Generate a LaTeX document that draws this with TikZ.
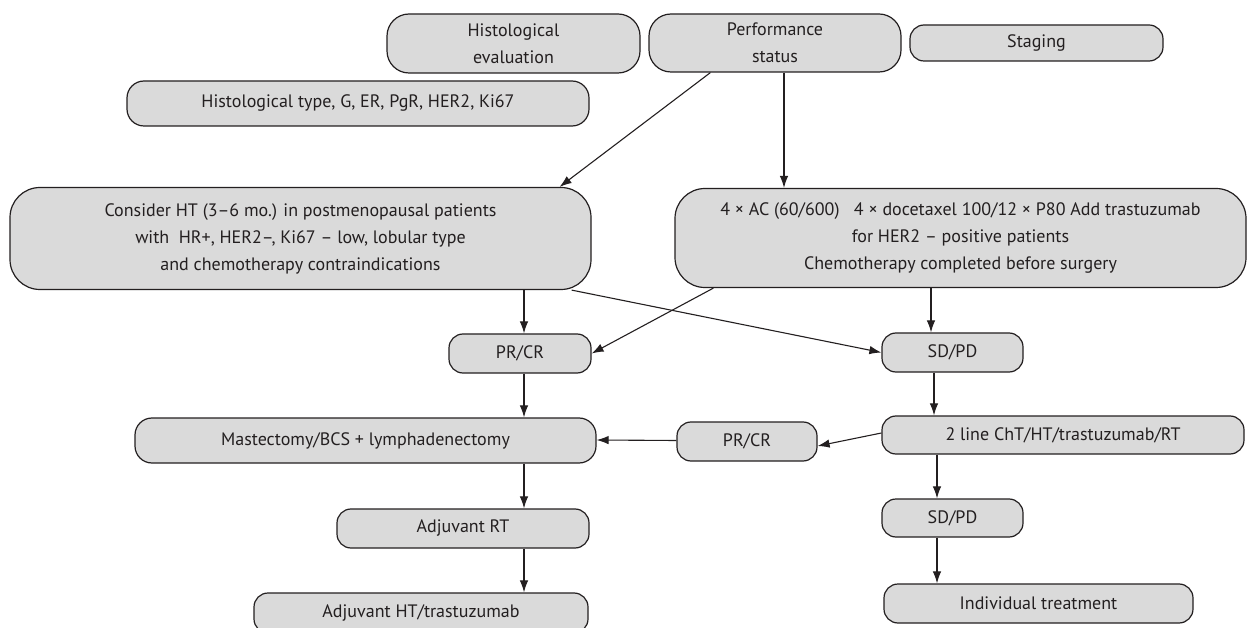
\documentclass[tikz,border=0pt]{standalone}
\usepackage{fontspec}
\setmainfont{PT Sans}
\usetikzlibrary{arrows.meta,calc}
\definecolor{boxgray}{HTML}{DADADA}
\definecolor{inkk}{HTML}{231F20}
\begin{document}
\begin{tikzpicture}[x=1pt,y=-1pt,
  box/.style={draw=inkk, line width=1.2pt, fill=boxgray, align=center, inner sep=0pt,
    font=\fontsize{18}{27}\selectfont, text=inkk},
  rs/.style={rounded corners=14pt},
  rm/.style={rounded corners=17pt},
  rl/.style={rounded corners=22pt},
  rx/.style={rounded corners=30pt},
  arr/.style={draw=inkk, line width=1.1pt, -{Latex[length=12pt,width=8.5pt]}},
  ln/.style={draw=inkk, line width=1.1pt}]
\useasboundingbox (0,0) rectangle (1248,628);
\clip (0,0) rectangle (1248,628);
\node[box,rl,minimum width=253pt,minimum height=59pt] (histeval) at (513.5,43.5) {Histological\\evaluation};
\node[box,rl,minimum width=252pt,minimum height=58pt] (perf) at (775,43) {Performance\\status};
\node[box,rs,minimum width=253pt,minimum height=36pt] (staging) at (1036.5,43) {Staging};
\node[box,rm,minimum width=462pt,minimum height=45pt] (histtype) at (358,103.5) {Histological type, G, ER, PgR, HER2, Ki67};
\node[box,rx,minimum width=581pt,minimum height=102pt] (cons) at (300.5,238.5) {Consider HT (3–6 mo.) in postmenopausal patients\\with \ HR+, HER2–, Ki67 – low, lobular type\\and chemotherapy contraindications};
\node[box,rx,minimum width=571pt,minimum height=99pt] (ac) at (960.5,238) {4 × AC (60/600) \ \ 4 × docetaxel 100/12 × P80 Add trastuzumab\\for HER2 – positive patients\\Chemotherapy completed before surgery};
\node[box,rs,minimum width=142pt,minimum height=39pt] (prcr1) at (520,353.5) {PR/CR};
\node[box,rs,minimum width=141pt,minimum height=39pt] (sdpd1) at (952.5,352.5) {SD/PD};
\node[box,rm,minimum width=461pt,minimum height=45pt] (mast) at (365.5,440.5) {Mastectomy/BCS + lymphadenectomy};
\node[box,rs,minimum width=140pt,minimum height=39pt] (prcr2) at (747,441.5) {PR/CR};
\node[box,rs,minimum width=362pt,minimum height=38pt] (line2) at (1063,435) {2 line ChT/HT/trastuzumab/RT};
\node[box,rs,minimum width=252pt,minimum height=39pt] (adjrt) at (463,528.5) {Adjuvant RT};
\node[box,rs,minimum width=141pt,minimum height=38pt] (sdpd2) at (952.5,518) {SD/PD};
\node[box,rs,minimum width=334pt,minimum height=40pt] (adjht) at (421,613) {Adjuvant HT/trastuzumab};
\node[box,rs,minimum width=309pt,minimum height=39pt] (indiv) at (1038.5,603.5) {Individual treatment};
\coordinate (cl) at (524,0);
\coordinate (cac) at (931,0);
\coordinate (cl2) at (934,0);
\coordinate (cr) at (937,0);
\coordinate (cp) at (784,0);
\draw[arr] ($(perf.south west)+(62,0)$) -- ($(cons.north east)+(-32,0)$);
\draw[arr] (perf.south -| cp) -- (ac.north -| cp);
\draw[arr] (cons.south -| cl) -- (prcr1.north -| cl);
\draw[arr] ($(cons.south east)+(-20,0)$) -- (sdpd1.west);
\draw[arr] ($(ac.south west)+(39,0)$) -- (prcr1.east);
\draw[arr] (ac.south -| cac) -- (sdpd1.north -| cac);
\draw[arr] (prcr1.south -| cl) -- (mast.north -| cl);
\draw[arr] (sdpd1.south -| cl2) -- (line2.north -| cl2);
\draw[arr] ($(line2.west)+(0,-2)$) -- ($(prcr2.east)+(0,4.5)$);
\draw[arr] ($(prcr2.west)+(0,-1)$) -- ($(mast.east)+(0,-0.5)$);
\draw[arr] (mast.south -| cl) -- (adjrt.north -| cl);
\draw[arr] (adjrt.south -| cl) -- (adjht.north -| cl);
\draw[arr] (line2.south -| cr) -- (sdpd2.north -| cr);
\draw[arr] (sdpd2.south -| cr) -- (indiv.north -| cr);
\end{tikzpicture}
\end{document}
